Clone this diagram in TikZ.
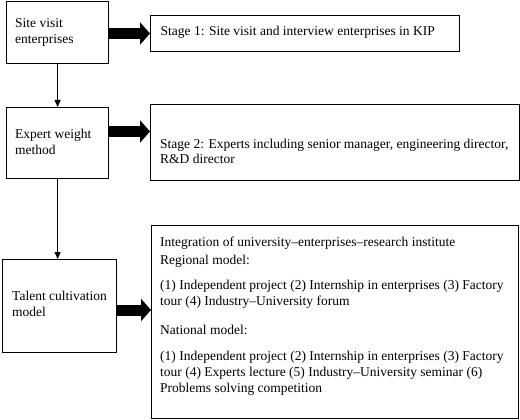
\documentclass[tikz,border=0pt]{standalone}
\usepackage{fontspec}
\setmainfont{Liberation Serif}
\usetikzlibrary{arrows.meta}
\begin{document}
\begin{tikzpicture}[x=1pt,y=-1pt,
  box/.style={draw, line width=1.2pt, inner sep=0pt, anchor=north west},
  txt/.style={anchor=base west, inner sep=0pt, align=left, font=\fontsize{13.5}{16}\selectfont},
  thinarrow/.style={line width=0.9pt, -{Triangle[length=7pt,width=6pt]}},
  fatarrow/.style={line width=11pt, -{Triangle[length=10pt,width=22pt]}}]
\useasboundingbox (0,0) rectangle (520,420);
% left boxes
\node[box, minimum width=102pt, minimum height=62pt] (A) at (6,1) {};
\node[box, minimum width=102pt, minimum height=71pt] (B) at (6,107) {};
\node[box, minimum width=114pt, minimum height=93pt] (C) at (2,259) {};
% right boxes
\node[box, minimum width=309pt, minimum height=36pt] (S1) at (150,15) {};
\node[box, minimum width=369pt, minimum height=76pt] (S2) at (150,104) {};
\node[box, minimum width=367pt, minimum height=193pt] (S3) at (151,225) {};
% texts (anchor = baseline of last line)
\node[txt] (tA) at (15,44) {Site visit\\enterprises};
\node[txt] (tB) at (15,154) {Expert weight\\method};
\node[txt] (tC) at (12,316) {Talent cultivation\\model};
\node[txt] (t1) at (160.5,36) {Stage 1: Site visit and interview enterprises in KIP};
\node[txt] (t2) at (160,164) {Stage 2: Experts including senior manager, engineering director,\\R\&D director};
\node[txt] (t3a) at (160,246) {Integration of university–enterprises–research institute};
\node[txt] (t3b) at (160,264) {Regional model:};
\node[txt] (t3c) at (160,305) {(1) Independent project (2) Internship in enterprises (3) Factory\\tour (4) Industry–University forum};
\node[txt] (t3d) at (160,334) {National model:};
\node[txt] (t3e) at (160,392) {(1) Independent project (2) Internship in enterprises (3) Factory\\tour (4) Experts lecture (5) Industry–University seminar (6)\\Problems solving competition};
% thin arrows
\draw[thinarrow] (A.south) -- (B.north);
\draw[thinarrow] (B.south) -- (B.south |- C.north);
% fat arrows
\coordinate (f1) at (0,33.5);
\coordinate (f2) at (0,131.5);
\coordinate (f3) at (0,310);
\draw[fatarrow] (A.east |- f1) -- (S1.west |- f1);
\draw[fatarrow] (B.east |- f2) -- (S2.west |- f2);
\draw[fatarrow] (C.east |- f3) -- (S3.west |- f3);
\end{tikzpicture}
\end{document}
